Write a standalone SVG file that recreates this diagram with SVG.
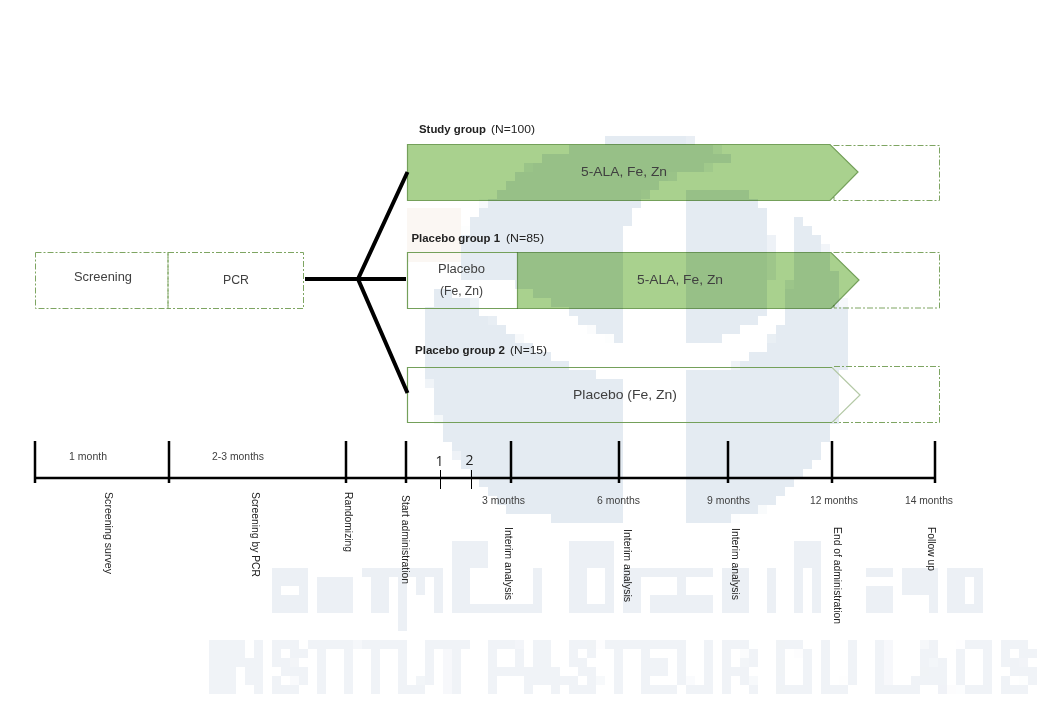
<svg xmlns="http://www.w3.org/2000/svg" width="1040" height="720" viewBox="0 0 1040 720">
<style>
text{font-family:"Liberation Sans",Arial,sans-serif;fill:#404040}
.lg{font-size:13px}
.md{font-size:12px}
.sm{font-size:10px}
.v{font-size:11px;fill:#222}
.h{font-size:11px;fill:#222}
.b{font-weight:bold}
.dash{fill:none;stroke:#7ea562;stroke-width:1;stroke-dasharray:6 2 2 2}
.box{stroke:#74a05a;stroke-width:1.2}
.green{fill:#a9d18e;mix-blend-mode:multiply}
.thick{stroke:#000;stroke-width:4;fill:none}
.tick{stroke:#000;stroke-width:2.5;fill:none}
.thin{stroke:#000;stroke-width:1;fill:none}
.wm{fill:#e4ebf2}
.wa{fill:#ecf0f5}
.num{font-family:"Open Sans",sans-serif;font-size:14px;fill:#222}
</style>
<defs>
<filter id="px" filterUnits="userSpaceOnUse" x="0" y="0" width="1040" height="720" color-interpolation-filters="sRGB">
<feFlood x="6" y="5" width="1" height="1" flood-color="#000"/>
<feComposite width="9" height="9"/>
<feTile result="grid"/>
<feComposite in="SourceGraphic" in2="grid" operator="in"/>
<feMorphology operator="dilate" radius="4"/>
</filter>
</defs>
<rect width="1040" height="720" fill="#fff"/>
<g id="watermark" filter="url(#px)">
<rect x="407" y="210" width="50" height="53" fill="#fbf7f3"/>
<g transform="translate(400 130) scale(.3333)" class="wm">
<path d="M620 30H870L1000 75V105L850 120L740 190L690 270L660 370V640L560 590L500 545L420 500L350 470L300 445L180 455L175 370L205 280L230 240L285 190L420 85L530 50Z"/>
<path d="M100 480L210 500L250 550L330 610L470 690L540 720L660 760V1180H560L340 1150L230 1060L150 950L100 830L70 650L80 570Z"/>
<path d="M875 170H1030L1090 230L1115 320V440L1090 550L1040 590L960 630L848 645V200Z"/>
<path d="M1170 240L1220 280L1280 360L1320 450L1335 550V700L1300 900L1240 1000L1110 1130L960 1180H848V730L1000 710L1100 650L1150 560L1180 400Z"/>
</g>
<g class="wa">
<path fill-rule="evenodd" d="M272 568H307V612H272ZM285 588V595H298V588Z"/>
<rect x="316" y="575" width="36" height="37"/>
<rect x="361" y="568" width="72" height="9"/><rect x="370" y="577" width="17" height="35"/><rect x="397" y="577" width="8" height="50"/><rect x="415" y="577" width="8" height="16"/><rect x="432" y="568" width="9" height="44"/>
<rect x="450" y="542" width="37" height="26"/><rect x="450" y="568" width="17" height="44"/><rect x="450" y="603" width="90" height="9"/><rect x="531" y="568" width="9" height="44"/>
<rect x="567" y="542" width="45" height="26"/><rect x="567" y="568" width="18" height="44"/><rect x="602" y="568" width="10" height="44"/><rect x="567" y="603" width="45" height="9"/>
<rect x="620" y="568" width="18" height="44"/><rect x="620" y="568" width="35" height="9"/>
<rect x="647" y="568" width="63" height="9"/><rect x="647" y="595" width="63" height="17"/><rect x="673" y="568" width="17" height="44"/>
<rect x="718" y="568" width="35" height="44"/><rect x="763" y="568" width="17" height="44"/>
<rect x="790" y="542" width="35" height="26"/><rect x="790" y="568" width="15" height="44"/><rect x="815" y="568" width="10" height="44"/>
<rect x="862" y="568" width="35" height="9"/><rect x="862" y="590" width="35" height="22"/>
<rect x="905" y="568" width="37" height="25"/><rect x="933" y="568" width="9" height="44"/>
<path fill-rule="evenodd" d="M951 568H987V612H951ZM968 577V603H977V577Z"/>
</g>
<text transform="translate(210 693) scale(1 1.286)" textLength="826" lengthAdjust="spacingAndGlyphs" style="fill:#f0f3f7;stroke:#f0f3f7;stroke-width:2.500;font-weight:bold;font-size:57.500px">INSTITUT PASTEUR DU LAOS</text>
</g>
<g id="screening"><rect class="dash" x="35.500" y="252.500" width="132.500" height="56"/><text class="md" x="74" y="281" textLength="58" lengthAdjust="spacingAndGlyphs">Screening</text></g>
<g id="pcr"><rect class="dash" x="168" y="252.500" width="135.500" height="56"/><text class="md" x="223" y="284" textLength="26" lengthAdjust="spacingAndGlyphs">PCR</text></g>
<g id="study-group">
<path class="dash" d="M833.500 145.500H939.500V200.500H834V197"/>
<path class="box green" d="M407.500 144.500H830L858 172L830 200.500H407.500Z"/>
<text class="h b" x="419" y="133" textLength="67" lengthAdjust="spacingAndGlyphs">Study group</text>
<text class="h" x="491" y="133" textLength="44" lengthAdjust="spacingAndGlyphs">(N=100)</text>
<text class="lg" x="581" y="176" textLength="86" lengthAdjust="spacingAndGlyphs">5-ALA, Fe, Zn</text>
</g>
<g id="placebo-group-1">
<path class="dash" d="M833.500 252.500H939.500V308H834V305"/>
<path class="box" d="M517.500 252.500H407.500V308.500H517.500" fill="none"/>
<path class="box green" d="M517.500 252.500H831L859 280L831 308.500H517.500Z"/>
<text class="h b" x="411.500" y="242" textLength="88.500" lengthAdjust="spacingAndGlyphs">Placebo group 1</text>
<text class="h" x="506" y="242" textLength="38" lengthAdjust="spacingAndGlyphs">(N=85)</text>
<text class="md" x="438" y="273" textLength="47" lengthAdjust="spacingAndGlyphs">Placebo</text>
<text class="md" x="440" y="295" textLength="43" lengthAdjust="spacingAndGlyphs">(Fe, Zn)</text>
<text class="lg" x="637" y="284" textLength="86" lengthAdjust="spacingAndGlyphs">5-ALA, Fe, Zn</text>
</g>
<g id="placebo-group-2">
<path class="dash" d="M834 366.500H939.500V422.500H834"/>
<path class="box" d="M832 367.500H407.500V422.500H832" fill="none"/>
<path d="M832 367.500L860 395L832 422.500" fill="none" stroke="#b4c9a6" stroke-width="1.200"/>
<text class="h b" x="415" y="354" textLength="90" lengthAdjust="spacingAndGlyphs">Placebo group 2</text>
<text class="h" x="510" y="354" textLength="37" lengthAdjust="spacingAndGlyphs">(N=15)</text>
<text class="lg" x="573" y="399" textLength="104" lengthAdjust="spacingAndGlyphs">Placebo (Fe, Zn)</text>
</g>
<g id="connectors">
<path class="thick" d="M305 279H406M407.500 172L358 279L407.500 393"/>
</g>
<g id="timeline">
<path class="tick" d="M35 478H936M35 441V483M169 441V483M346 441V483M406 441V483M511 441V483M619 441V483M728 441V483M832 441V483M935 441V483"/>
<path class="thin" d="M440.500 470V489M471.500 470V489"/>
<text class="num" x="435.500" y="466">1</text>
<text class="num" x="465.500" y="465">2</text>
<text class="sm" x="69" y="460" textLength="38" lengthAdjust="spacingAndGlyphs">1 month</text>
<text class="sm" x="212" y="460" textLength="52" lengthAdjust="spacingAndGlyphs">2-3 months</text>
<text class="sm" x="482" y="503.500" textLength="43" lengthAdjust="spacingAndGlyphs">3 months</text>
<text class="sm" x="597" y="503.500" textLength="43" lengthAdjust="spacingAndGlyphs">6 months</text>
<text class="sm" x="707" y="503.500" textLength="43" lengthAdjust="spacingAndGlyphs">9 months</text>
<text class="sm" x="810" y="503.500" textLength="48" lengthAdjust="spacingAndGlyphs">12 months</text>
<text class="sm" x="905" y="503.500" textLength="48" lengthAdjust="spacingAndGlyphs">14 months</text>
<text class="v" transform="translate(105 492) rotate(90)" textLength="82" lengthAdjust="spacingAndGlyphs">Screening survey</text>
<text class="v" transform="translate(252 492) rotate(90)" textLength="85" lengthAdjust="spacingAndGlyphs">Screening by PCR</text>
<text class="v" transform="translate(345 492) rotate(90)" textLength="60" lengthAdjust="spacingAndGlyphs">Randomizing</text>
<text class="v" transform="translate(402 495) rotate(90)" textLength="89" lengthAdjust="spacingAndGlyphs">Start administration</text>
<text class="v" transform="translate(505 527) rotate(90)" textLength="73" lengthAdjust="spacingAndGlyphs">Interim analysis</text>
<text class="v" transform="translate(623.500 529) rotate(90)" textLength="73" lengthAdjust="spacingAndGlyphs">Interim analysis</text>
<text class="v" transform="translate(732 528) rotate(90)" textLength="72" lengthAdjust="spacingAndGlyphs">Interim analysis</text>
<text class="v" transform="translate(833.500 527) rotate(90)" textLength="97" lengthAdjust="spacingAndGlyphs">End of administration</text>
<text class="v" transform="translate(927.500 527) rotate(90)" textLength="44" lengthAdjust="spacingAndGlyphs">Follow up</text>
</g>
</svg>
